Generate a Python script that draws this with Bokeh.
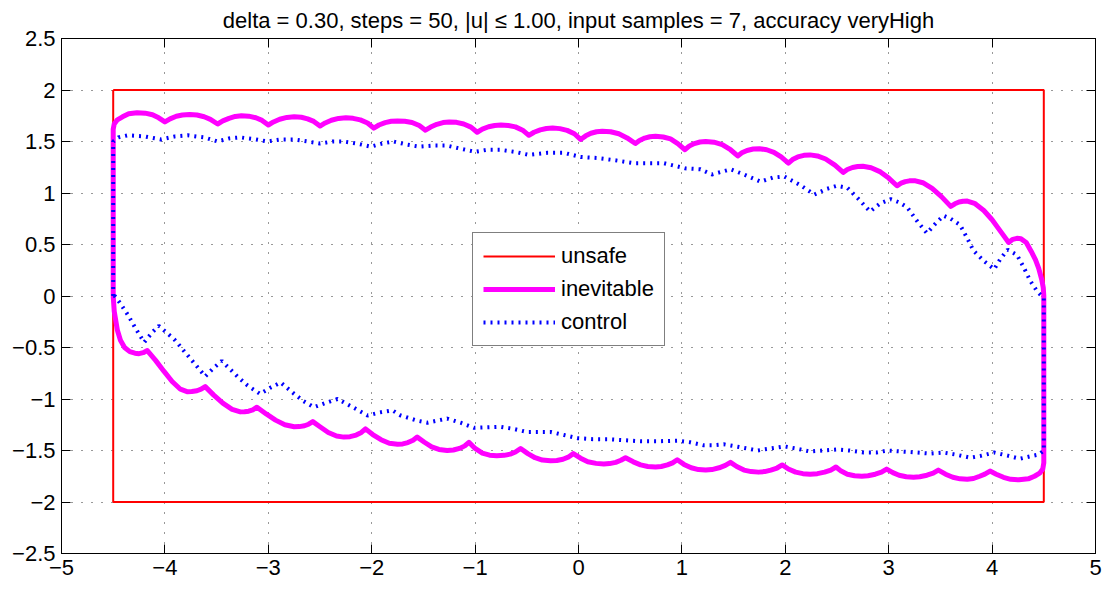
from bokeh.plotting import figure
from bokeh.models import Range1d, LinearAxis, FixedTicker, Legend
from bokeh.embed import file_html
from bokeh.resources import INLINE

TITLE = "delta = 0.30, steps = 50, |u| \u2264 1.00, input samples = 7, accuracy veryHigh"

x_ticks = [-5, -4, -3, -2, -1, 0, 1, 2, 3, 4, 5]
x_tick_labels = ["\u22125", "\u22124", "\u22123", "\u22122", "\u22121", "0", "1", "2", "3", "4", "5"]
y_ticks = [-2.5, -2, -1.5, -1, -0.5, 0, 0.5, 1, 1.5, 2, 2.5]
y_tick_labels = ["\u22122.5", "\u22122", "\u22121.5", "\u22121", "\u22120.5", "0", "0.5", "1", "1.5", "2", "2.5"]

# unsafe set (rectangle)
unsafe_x = [-4.5, 4.5, 4.5, -4.5, -4.5]
unsafe_y = [2.0, 2.0, -2.0, -2.0, 2.0]

# inevitable set boundary: left edge up, top edge left->right
inev_top_x = [-4.5, -4.5, -4.49, -4.46, -4.41, -4.35, -4.27, -4.19, -4.12, -4.06, -4.0,
              -3.95, -3.89, -3.83, -3.76, -3.69, -3.62, -3.56, -3.49,
              -3.44, -3.38, -3.32, -3.26, -3.19, -3.12, -3.06, -3.0,
              -2.95, -2.89, -2.82, -2.75, -2.68, -2.62, -2.56, -2.5,
              -2.45, -2.39, -2.32, -2.25, -2.18, -2.11, -2.04, -1.98,
              -1.93, -1.87, -1.81, -1.75, -1.68, -1.61, -1.54, -1.48,
              -1.43, -1.37, -1.31, -1.25, -1.18, -1.11, -1.04, -0.98,
              -0.93, -0.87, -0.81, -0.75, -0.68, -0.61, -0.54, -0.48,
              -0.43, -0.37, -0.31, -0.25, -0.18, -0.11, -0.04, 0.02,
              0.07, 0.12, 0.175, 0.23, 0.31, 0.39, 0.47, 0.55,
              0.59, 0.64, 0.69, 0.745, 0.82, 0.89, 0.96, 1.03,
              1.07, 1.12, 1.175, 1.23, 1.31, 1.39, 1.47, 1.54,
              1.58, 1.63, 1.69, 1.75, 1.82, 1.89, 1.96, 2.03,
              2.07, 2.12, 2.18, 2.24, 2.31, 2.39, 2.48, 2.56,
              2.6, 2.65, 2.7, 2.75, 2.83, 2.92, 3.0, 3.08,
              3.12, 3.16, 3.2, 3.25, 3.33, 3.42, 3.51, 3.6,
              3.64, 3.68, 3.72, 3.76, 3.83, 3.92, 4.0, 4.08, 4.16,
              4.2, 4.24, 4.28, 4.33, 4.38, 4.42, 4.45, 4.48, 4.495, 4.5]
inev_top_y = [0.0, 1.62, 1.67, 1.71, 1.74, 1.77, 1.78, 1.775, 1.76, 1.73, 1.69,
              1.72, 1.745, 1.757, 1.762, 1.757, 1.74, 1.715, 1.67,
              1.70, 1.725, 1.743, 1.75, 1.746, 1.73, 1.705, 1.66,
              1.69, 1.716, 1.734, 1.74, 1.735, 1.72, 1.695, 1.65,
              1.68, 1.706, 1.724, 1.73, 1.725, 1.71, 1.68, 1.63,
              1.66, 1.683, 1.696, 1.70, 1.697, 1.685, 1.655, 1.61,
              1.64, 1.667, 1.684, 1.69, 1.686, 1.67, 1.64, 1.59,
              1.62, 1.643, 1.656, 1.66, 1.656, 1.642, 1.61, 1.56,
              1.59, 1.613, 1.626, 1.63, 1.625, 1.608, 1.575, 1.52,
              1.555, 1.58, 1.595, 1.60, 1.595, 1.575, 1.535, 1.48,
              1.51, 1.533, 1.546, 1.55, 1.544, 1.525, 1.48, 1.42,
              1.455, 1.48, 1.495, 1.50, 1.493, 1.47, 1.42, 1.36,
              1.39, 1.413, 1.427, 1.43, 1.42, 1.395, 1.35, 1.29,
              1.325, 1.35, 1.366, 1.37, 1.36, 1.33, 1.27, 1.20,
              1.228, 1.248, 1.258, 1.26, 1.245, 1.205, 1.145, 1.07,
              1.095, 1.11, 1.118, 1.12, 1.10, 1.045, 0.965, 0.87,
              0.895, 0.912, 0.92, 0.922, 0.90, 0.83, 0.74, 0.63, 0.52,
              0.55, 0.56, 0.555, 0.52, 0.43, 0.35, 0.27, 0.16, 0.08, 0.0]

# inevitable set boundary: right edge down, bottom edge right->left
inev_bot_x = [4.5, 4.5, 4.49, 4.46, 4.41, 4.35, 4.26, 4.18, 4.11, 4.04, 3.98,
              3.93, 3.88, 3.82, 3.76, 3.69, 3.62, 3.55, 3.48,
              3.43, 3.37, 3.3, 3.24, 3.17, 3.1, 3.04, 2.98,
              2.93, 2.87, 2.8, 2.74, 2.67, 2.6, 2.54, 2.49,
              2.44, 2.38, 2.31, 2.24, 2.17, 2.1, 2.03, 1.97,
              1.92, 1.86, 1.8, 1.74, 1.67, 1.6, 1.53, 1.47,
              1.42, 1.36, 1.29, 1.23, 1.16, 1.09, 1.02, 0.955,
              0.91, 0.86, 0.8, 0.745, 0.67, 0.6, 0.53, 0.455,
              0.41, 0.36, 0.3, 0.245, 0.17, 0.09, 0.02, -0.05,
              -0.1, -0.15, -0.21, -0.27, -0.35, -0.42, -0.49, -0.56,
              -0.61, -0.66, -0.72, -0.79, -0.86, -0.93, -1.0, -1.06,
              -1.1, -1.15, -1.21, -1.27, -1.35, -1.42, -1.49, -1.56,
              -1.6, -1.65, -1.7, -1.75, -1.83, -1.91, -1.99, -2.06,
              -2.1, -2.15, -2.21, -2.27, -2.34, -2.42, -2.5, -2.57,
              -2.61, -2.65, -2.7, -2.75, -2.84, -2.93, -3.02, -3.11,
              -3.15, -3.19, -3.23, -3.27, -3.35, -3.44, -3.53, -3.61,
              -3.65, -3.69, -3.74, -3.78, -3.85, -3.93, -4.01, -4.09, -4.17,
              -4.21, -4.25, -4.29, -4.34, -4.39, -4.43, -4.46, -4.49, -4.5]
inev_bot_y = [0.0, -1.62, -1.68, -1.72, -1.75, -1.775, -1.785, -1.78, -1.76, -1.73, -1.70,
              -1.73, -1.75, -1.772, -1.78, -1.775, -1.76, -1.73, -1.69,
              -1.72, -1.74, -1.755, -1.76, -1.755, -1.74, -1.715, -1.68,
              -1.71, -1.73, -1.745, -1.75, -1.745, -1.73, -1.70, -1.66,
              -1.69, -1.71, -1.725, -1.73, -1.725, -1.71, -1.68, -1.64,
              -1.67, -1.69, -1.705, -1.71, -1.705, -1.69, -1.655, -1.615,
              -1.645, -1.668, -1.685, -1.69, -1.685, -1.668, -1.635, -1.59,
              -1.62, -1.64, -1.655, -1.66, -1.655, -1.64, -1.61, -1.57,
              -1.595, -1.615, -1.627, -1.63, -1.625, -1.61, -1.575, -1.53,
              -1.565, -1.585, -1.597, -1.60, -1.593, -1.57, -1.53, -1.48,
              -1.515, -1.535, -1.547, -1.55, -1.545, -1.525, -1.48, -1.42,
              -1.455, -1.48, -1.495, -1.50, -1.49, -1.465, -1.42, -1.37,
              -1.40, -1.423, -1.436, -1.44, -1.43, -1.395, -1.345, -1.29,
              -1.325, -1.35, -1.366, -1.37, -1.36, -1.325, -1.27, -1.22,
              -1.245, -1.26, -1.268, -1.27, -1.25, -1.205, -1.145, -1.08,
              -1.105, -1.118, -1.124, -1.125, -1.10, -1.04, -0.96, -0.88,
              -0.905, -0.92, -0.928, -0.93, -0.905, -0.83, -0.73, -0.625, -0.53,
              -0.55, -0.56, -0.555, -0.54, -0.50, -0.43, -0.33, -0.15, 0.0]

# control set boundary: left edge up, top edge left->right
ctrl_top_x = [-4.5, -4.5, -4.45, -4.36, -4.2, -4.04, -3.9, -3.78, -3.62, -3.49, -3.38, -3.27, -3.12, -3.01,
              -2.88, -2.75, -2.62, -2.5, -2.38, -2.27, -2.14, -2.01, -1.9, -1.79, -1.66, -1.54, -1.4, -1.27,
              -1.14, -1.0, -0.88, -0.755, -0.62, -0.48, -0.3, -0.14, 0.02, 0.18, 0.34, 0.535, 0.68, 0.825,
              1.03, 1.18, 1.29, 1.47, 1.6, 1.76, 1.88, 1.99, 2.14, 2.28, 2.4, 2.5, 2.6, 2.7, 2.82, 2.92,
              3.02, 3.1, 3.18, 3.28, 3.37, 3.45, 3.53, 3.6, 3.69, 3.76, 3.82, 3.92, 4.02, 4.08, 4.15, 4.24,
              4.31, 4.37, 4.44, 4.5]
ctrl_top_y = [0.0, 1.5, 1.54, 1.56, 1.55, 1.52, 1.55, 1.56, 1.54, 1.5, 1.53, 1.54, 1.52, 1.5,
              1.52, 1.52, 1.5, 1.48, 1.5, 1.5, 1.48, 1.45, 1.48, 1.5, 1.47, 1.45, 1.46, 1.46,
              1.43, 1.4, 1.42, 1.42, 1.4, 1.37, 1.39, 1.39, 1.35, 1.34, 1.32, 1.29, 1.29, 1.29,
              1.24, 1.23, 1.18, 1.23, 1.18, 1.11, 1.15, 1.16, 1.08, 0.985, 1.04, 1.07, 1.05, 0.95, 0.82, 0.9,
              0.94, 0.91, 0.86, 0.72, 0.61, 0.7, 0.78, 0.75, 0.69, 0.56, 0.44, 0.34, 0.26, 0.36, 0.45, 0.4,
              0.27, 0.145, 0.04, -0.02]

# control set boundary: right edge down, bottom edge right->left
ctrl_bot_x = [4.5, 4.5, 4.45, 4.4, 4.27, 4.15, 4.02, 3.9, 3.79, 3.65, 3.53, 3.4, 3.28, 3.12, 2.99, 2.88, 2.76,
              2.62, 2.5, 2.36, 2.24, 2.1, 1.99, 1.86, 1.73, 1.63, 1.52, 1.405, 1.3, 1.21, 1.08, 0.955, 0.78,
              0.6, 0.44, 0.28, 0.14, -0.013, -0.14, -0.27, -0.5, -0.63, -0.755, -1.01, -1.14, -1.27, -1.46,
              -1.56, -1.72, -1.8, -1.92, -2.04, -2.2, -2.33, -2.45, -2.56, -2.66, -2.75, -2.88, -2.98,
              -3.08, -3.2, -3.3, -3.45, -3.53, -3.61, -3.76, -3.91, -4.06, -4.12, -4.2, -4.28, -4.36,
              -4.44, -4.5]
ctrl_bot_y = [-0.02, -1.5, -1.54, -1.55, -1.58, -1.55, -1.52, -1.55, -1.57, -1.54, -1.52, -1.53, -1.52, -1.51, -1.5, -1.52, -1.52,
              -1.5, -1.49, -1.5, -1.51, -1.48, -1.46, -1.48, -1.5, -1.48, -1.46, -1.44, -1.45, -1.45, -1.42, -1.405, -1.41,
              -1.41, -1.4, -1.39, -1.39, -1.38, -1.35, -1.32, -1.32, -1.29, -1.27, -1.28, -1.23, -1.19, -1.23,
              -1.21, -1.16, -1.11, -1.13, -1.16, -1.07, -1.0, -1.04, -1.08, -1.02, -0.95, -0.84, -0.89,
              -0.95, -0.87, -0.78, -0.63, -0.7, -0.78, -0.6, -0.42, -0.29, -0.35, -0.45, -0.32, -0.18,
              -0.06, 0.02]

FONT = "Liberation Sans"
FS = "22px"

p = figure(width=1104, height=590, output_backend="svg", toolbar_location=None,
           x_range=Range1d(-5, 5), y_range=Range1d(-2.5, 2.5),
           min_border_left=61, min_border_right=9, min_border_top=37, min_border_bottom=37,
           background_fill_color="white", border_fill_color="white")
p.outline_line_color = "black"
p.outline_line_width = 1

p.title.text = TITLE
p.title.align = "center"
p.title.text_font = FONT
p.title.text_font_size = FS
p.title.text_font_style = "normal"
p.title.text_color = "black"
p.title.text_line_height = 0.7
p.title.standoff = 11

def style_axis(ax, ticks, labels, show_labels):
    ax.ticker = FixedTicker(ticks=ticks)
    ax.major_label_overrides = {t: (l if show_labels else "") for t, l in zip(ticks, labels)}
    ax.major_tick_in = 9
    ax.major_tick_out = 0
    ax.minor_tick_in = 0
    ax.minor_tick_out = 0
    ax.axis_line_color = "black"
    ax.major_tick_line_color = "black"
    ax.major_label_text_font = FONT
    ax.major_label_text_font_size = FS if show_labels else "0px"
    ax.major_label_text_color = "black"
    ax.major_label_standoff = 6 if show_labels else 0

style_axis(p.xaxis[0], x_ticks, x_tick_labels, True)
style_axis(p.yaxis[0], y_ticks, y_tick_labels, True)
ax_top = LinearAxis()
ax_right = LinearAxis()
style_axis(ax_top, x_ticks, x_tick_labels, False)
style_axis(ax_right, y_ticks, y_tick_labels, False)
p.add_layout(ax_top, "above")
p.add_layout(ax_right, "right")

p.xgrid[0].ticker = FixedTicker(ticks=x_ticks)
p.ygrid[0].ticker = FixedTicker(ticks=y_ticks)
for g in (p.xgrid[0], p.ygrid[0]):
    g.grid_line_color = "black"
    g.grid_line_dash = "1 9"
    g.grid_line_width = 1
    g.grid_line_alpha = 0.8

r_unsafe = p.line(unsafe_x, unsafe_y, line_color="#FF0000", line_width=2)
r_inev = p.line(inev_top_x + inev_bot_x, inev_top_y + inev_bot_y,
                line_color="#FF00FF", line_width=5, line_join="round")
r_ctrl = p.line(ctrl_top_x + ctrl_bot_x, ctrl_top_y + ctrl_bot_y,
                line_color="#0000FF", line_width=4, line_dash="2 5")

legend = Legend(items=[("unsafe", [r_unsafe]), ("inevitable", [r_inev]), ("control", [r_ctrl])],
                location=(411, 207))
legend.label_text_font = FONT
legend.label_text_font_size = FS
legend.label_text_color = "black"
legend.glyph_width = 72
legend.glyph_height = 24
legend.label_height = 24
legend.spacing = 7
legend.padding = 10
legend.margin = 0
legend.label_standoff = 6
legend.border_line_color = "black"
legend.border_line_width = 1
legend.background_fill_color = "white"
legend.background_fill_alpha = 1
p.add_layout(legend, "center")

open("out.html", "w").write(file_html(p, INLINE))
